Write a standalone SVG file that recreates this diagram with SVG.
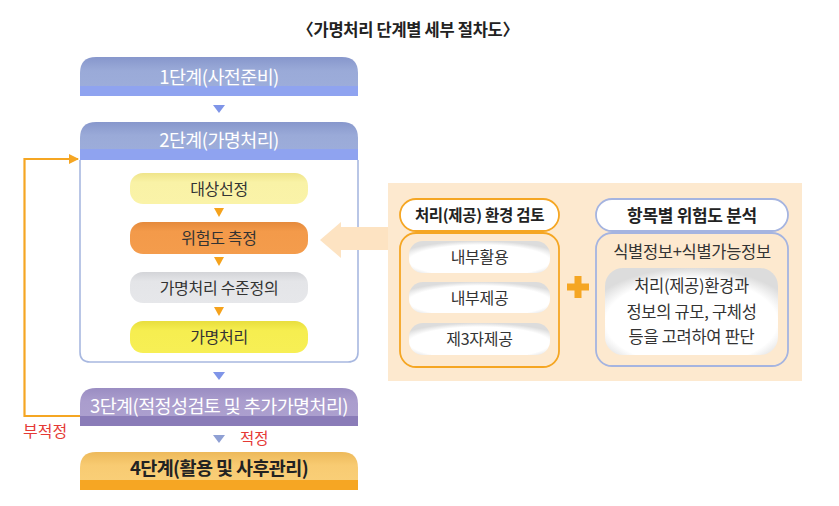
<svg xmlns="http://www.w3.org/2000/svg" width="839" height="506" viewBox="0 0 839 506">
<defs>
<linearGradient id="gBlue" x1="0" y1="0" x2="0" y2="1">
<stop offset="0" stop-color="#8797CC"/><stop offset="0.35" stop-color="#9AAAD8"/><stop offset="1" stop-color="#9EAEDB"/>
</linearGradient>
<linearGradient id="gPurple" x1="0" y1="0" x2="0" y2="1">
<stop offset="0" stop-color="#9A8DC2"/><stop offset="0.35" stop-color="#AA9DCD"/><stop offset="1" stop-color="#ADA1CF"/>
</linearGradient>
<linearGradient id="gOrange" x1="0" y1="0" x2="0" y2="1">
<stop offset="0" stop-color="#EDB95A"/><stop offset="0.35" stop-color="#F8CB72"/><stop offset="1" stop-color="#FAD07A"/>
</linearGradient>
<linearGradient id="gY1" x1="0" y1="0" x2="0" y2="1">
<stop offset="0" stop-color="#EFE48A"/><stop offset="0.3" stop-color="#F9F2A6"/><stop offset="1" stop-color="#FAF3A8"/>
</linearGradient>
<linearGradient id="gO1" x1="0" y1="0" x2="0" y2="1">
<stop offset="0" stop-color="#E58A3C"/><stop offset="0.3" stop-color="#F39A4A"/><stop offset="1" stop-color="#F49C4C"/>
</linearGradient>
<linearGradient id="gG1" x1="0" y1="0" x2="0" y2="1">
<stop offset="0" stop-color="#D3D4D8"/><stop offset="0.3" stop-color="#E4E5E8"/><stop offset="1" stop-color="#E6E7EA"/>
</linearGradient>
<linearGradient id="gY2" x1="0" y1="0" x2="0" y2="1">
<stop offset="0" stop-color="#E8DE3E"/><stop offset="0.3" stop-color="#F6EE50"/><stop offset="1" stop-color="#F7EF55"/>
</linearGradient>
<radialGradient id="gW" cx="0.5" cy="0.62" r="0.62">
<stop offset="0.8" stop-color="#FFFFFF"/><stop offset="1" stop-color="#DCDCDC"/>
</radialGradient>
<marker id="ah" viewBox="0 0 10 10" refX="9" refY="5" markerWidth="10" markerHeight="10" markerUnits="userSpaceOnUse" orient="auto">
<path d="M0,0 L10,5 L0,10 Z" fill="#F5A623"/>
</marker>
<style>
.st{font-family:"Noto Sans CJK KR","Noto Sans",sans-serif;font-size:18.5px;text-anchor:middle;fill:#FFFFFF;letter-spacing:-0.6px}
.in{font-family:"Noto Sans CJK KR","Noto Sans",sans-serif;font-size:16px;text-anchor:middle;fill:#333333;letter-spacing:-0.3px}
.hd{font-family:"Noto Sans CJK KR","Noto Sans",sans-serif;font-weight:bold;text-anchor:middle;fill:#222222}
.red{font-family:"Noto Sans CJK KR","Noto Sans",sans-serif;font-size:16px;fill:#E53935}
.tb{fill:#7F95E8}
.to{fill:#F5A21C}
</style>
</defs>
<rect width="839" height="506" fill="#FFFFFF"/>
<text x="408" y="36" font-family="'Noto Sans CJK KR','Noto Sans',sans-serif" font-size="16.5" font-weight="bold" text-anchor="middle" fill="#222222" letter-spacing="-0.3">〈가명처리 단계별 세부 절차도〉</text>

<g id="panel">
<rect x="388" y="183" width="414" height="198" fill="#FDE9CF"/>
</g>

<g id="stage1">
<path d="M80,96 V73 Q80,57 96,57 H342 Q358,57 358,73 V96 Z" fill="url(#gBlue)"/>
<rect x="80" y="86" width="278" height="10" fill="#8FA3F0"/>
<text class="st" x="219" y="84">1단계(사전준비)</text>
</g>

<g id="stage2">
<path d="M80,160 V352 Q80,362 90,362 H348 Q358,362 358,352 V160" fill="#FFFFFF" stroke="#A8B8E0" stroke-width="1.6"/>
<path d="M80,160 V138 Q80,122 96,122 H342 Q358,122 358,138 V160 Z" fill="url(#gBlue)"/>
<rect x="80" y="149" width="278" height="11" fill="#8FA3F0"/>
<text class="st" x="219" y="147">2단계(가명처리)</text>
</g>

<g id="step-target">
<rect x="130" y="173" width="178" height="31" rx="13" fill="url(#gY1)"/>
<text class="in" x="219" y="194.5">대상선정</text>
</g>
<g id="step-risk">
<rect x="130" y="222" width="178" height="32" rx="13" fill="url(#gO1)"/>
<text class="in" x="219" y="244">위험도 측정</text>
</g>
<g id="step-level">
<rect x="130" y="272" width="178" height="31" rx="13" fill="url(#gG1)"/>
<text class="in" x="219" y="293.5">가명처리 수준정의</text>
</g>
<g id="step-pseudo">
<rect x="130" y="321" width="178" height="32" rx="13" fill="url(#gY2)"/>
<text class="in" x="219" y="343">가명처리</text>
</g>

<g id="stage3">
<path d="M80,426 V404 Q80,388 96,388 H342 Q358,388 358,404 V426 Z" fill="url(#gPurple)"/>
<rect x="80" y="416" width="278" height="10" fill="#8A7CB8"/>
<text class="st" x="219" y="413">3단계(적정성검토 및 추가가명처리)</text>
</g>

<g id="stage4">
<path d="M80,490 V468 Q80,452 96,452 H342 Q358,452 358,468 V490 Z" fill="url(#gOrange)"/>
<rect x="80" y="480" width="278" height="10" fill="#F6A623"/>
<text class="st" x="219" y="475" style="fill:#222222;font-weight:bold;letter-spacing:-0.6px">4단계(활용 및 사후관리)</text>
</g>

<g id="env-review">
<rect x="400" y="199" width="159" height="32" rx="16" fill="#FFFFFF" stroke="#F5A623" stroke-width="1.8"/>
<text class="hd" x="479.5" y="221" font-size="15.5" letter-spacing="-0.3">처리(제공) 환경 검토</text>
<rect x="400" y="233" width="159" height="134" rx="16" fill="#FDE9CF" stroke="#F5A623" stroke-width="1.8"/>
<g id="env-internal-use">
<rect x="409" y="241" width="141" height="32" rx="14" fill="url(#gW)"/>
<text class="in" x="479.5" y="262.5">내부활용</text>
</g>
<g id="env-internal-provide">
<rect x="409" y="282" width="141" height="31" rx="14" fill="url(#gW)"/>
<text class="in" x="479.5" y="303.5">내부제공</text>
</g>
<g id="env-third-party">
<rect x="409" y="323" width="141" height="32" rx="14" fill="url(#gW)"/>
<text class="in" x="479.5" y="344.5">제3자제공</text>
</g>
</g>

<g id="risk-analysis">
<rect x="596" y="199" width="192" height="32" rx="16" fill="#FFFFFF" stroke="#A5B4E0" stroke-width="1.8"/>
<text class="hd" x="692" y="221.5" font-size="17" letter-spacing="-0.3">항목별 위험도 분석</text>
<rect x="596" y="233" width="192" height="133" rx="16" fill="#FDE9CF" stroke="#A5B4E0" stroke-width="1.8"/>
<text class="in" x="692" y="258" style="font-size:16.5px">식별정보+식별가능정보</text>
<rect x="605" y="268" width="173" height="87" rx="18" fill="url(#gW)"/>
<text class="in" x="691.5" y="292" style="font-size:16.5px">처리(제공)환경과</text>
<text class="in" x="691.5" y="318" style="font-size:16.5px">정보의 규모, 구체성</text>
<text class="in" x="691.5" y="343" style="font-size:16.5px">등을 고려하여 판단</text>
</g>

<g id="connectors">
<polygon class="tb" points="213,105 225,105 219,113"/>
<polygon class="to" points="214,208 224,208 219,217"/>
<polygon class="to" points="214,257 224,257 219,266"/>
<polygon class="to" points="214,307 224,307 219,316"/>
<polygon class="tb" points="213,372 225,372 219,380"/>
<polygon fill="#8FA0D4" points="213,435 225,435 219,443"/>
<polyline points="80,416 24.5,416 24.5,159 78,159" fill="none" stroke="#F5A623" stroke-width="2.2" marker-end="url(#ah)"/>
<polygon points="320,240 341,222 341,227 388,227 388,250 341,250 341,258" fill="#FDE3C2"/>
<rect x="567" y="283.5" width="22" height="7" fill="#F5A623"/>
<rect x="574.5" y="276" width="7" height="22" fill="#F5A623"/>
<text class="red" x="23" y="437">부적정</text>
<text class="red" x="240" y="444" style="font-size:15.5px">적정</text>
</g>
</svg>
